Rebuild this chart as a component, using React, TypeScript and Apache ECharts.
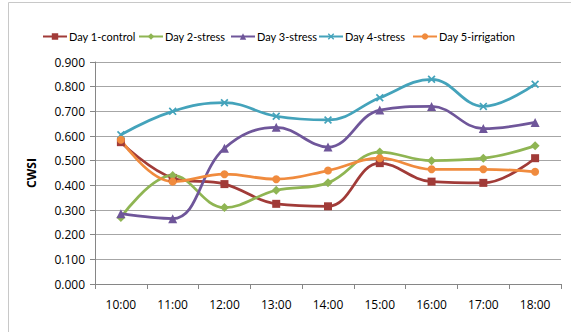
import React, { useEffect, useRef } from "react";
import * as echarts from "echarts";

const hours = ["10:00", "11:00", "12:00", "13:00", "14:00", "15:00", "16:00", "17:00", "18:00"];
const day1Control = [0.575, 0.43, 0.405, 0.325, 0.315, 0.49, 0.415, 0.41, 0.51];
const day2Stress = [0.27, 0.44, 0.31, 0.38, 0.41, 0.535, 0.5, 0.51, 0.56];
const day3Stress = [0.285, 0.265, 0.55, 0.635, 0.555, 0.705, 0.72, 0.63, 0.655];
const day4Stress = [0.605, 0.7, 0.735, 0.68, 0.665, 0.755, 0.83, 0.72, 0.81];
const day5Irrigation = [0.585, 0.415, 0.445, 0.425, 0.46, 0.51, 0.465, 0.465, 0.455];

const FONT = "'Open Sans', sans-serif";
const LEGEND_FONT = "Lato, 'Open Sans', sans-serif";
const CROSS =
  "path://M0,1.5L1.5,0L5,3.5L8.5,0L10,1.5L6.5,5L10,8.5L8.5,10L5,6.5L1.5,10L0,8.5L3.5,5Z";

const seriesDefs = [
  { name: "Day 1-control", data: day1Control, color: "#A13B38", symbol: "rect", size: 8, legendLeft: 42 },
  { name: "Day 2-stress", data: day2Stress, color: "#8FB553", symbol: "diamond", size: 9, legendLeft: 138 },
  { name: "Day 3-stress", data: day3Stress, color: "#6F569A", symbol: "triangle", size: 9, legendLeft: 230 },
  { name: "Day 4-stress", data: day4Stress, color: "#44A3BB", symbol: CROSS, size: 8, legendLeft: 318 },
  { name: "Day 5-irrigation", data: day5Irrigation, color: "#F08B3E", symbol: "circle", size: 8, legendLeft: 412 },
];

export default function App() {
  const ref = useRef<HTMLDivElement>(null);
  useEffect(() => {
    if (!ref.current) return;
    const chart = echarts.init(ref.current, null, { renderer: "svg" });
    chart.setOption({
      animation: false,
      backgroundColor: "#ffffff",
      graphic: [
        { type: "line", shape: { x1: 8.5, y1: 2.5, x2: 8.5, y2: 332 }, style: { stroke: "#c8c8c8", lineWidth: 1 } },
        { type: "line", shape: { x1: 8.5, y1: 2.5, x2: 571, y2: 2.5 }, style: { stroke: "#c8c8c8", lineWidth: 1 } },
      ],
      legend: seriesDefs.map((s) => ({
        top: 31,
        left: s.legendLeft,
        padding: 0,
        itemWidth: 24,
        itemHeight: 8,
        textStyle: { fontFamily: LEGEND_FONT, fontSize: 11, color: "#000", padding: [0, 0, 0, -3] },
        data: [s.name],
      })),
      grid: { left: 95, right: 10, top: 62, bottom: 48 },
      xAxis: {
        type: "category",
        data: hours,
        boundaryGap: true,
        axisLine: { lineStyle: { color: "#868686" } },
        axisTick: { show: true, length: 5, lineStyle: { color: "#868686" } },
        axisLabel: { fontFamily: FONT, fontSize: 12, color: "#000", margin: 14 },
      },
      yAxis: {
        type: "value",
        min: 0,
        max: 0.9,
        interval: 0.1,
        name: "CWSI",
        nameLocation: "middle",
        nameGap: 58,
        nameTextStyle: { fontFamily: FONT, fontSize: 12, fontWeight: "bold", color: "#000" },
        axisLine: { show: true, lineStyle: { color: "#868686" } },
        axisTick: { show: true, length: 5, lineStyle: { color: "#868686" } },
        splitLine: { lineStyle: { color: "#a6a6a6" } },
        axisLabel: {
          fontFamily: FONT,
          fontSize: 12,
          color: "#000",
          margin: 10,
          formatter: (v: number) => v.toFixed(3),
        },
      },
      series: seriesDefs.map((s) => ({
        name: s.name,
        type: "line",
        smooth: 0.4,
        data: s.data,
        symbol: s.symbol,
        symbolSize: s.size,
        lineStyle: { color: s.color, width: 2.75 },
        itemStyle: { color: s.color },
      })),
    });
    return () => chart.dispose();
  }, []);
  return (
    <div
      ref={ref}
      style={{ position: "fixed", left: 0, top: 0, width: 571, height: 332 }}
    />
  );
}
